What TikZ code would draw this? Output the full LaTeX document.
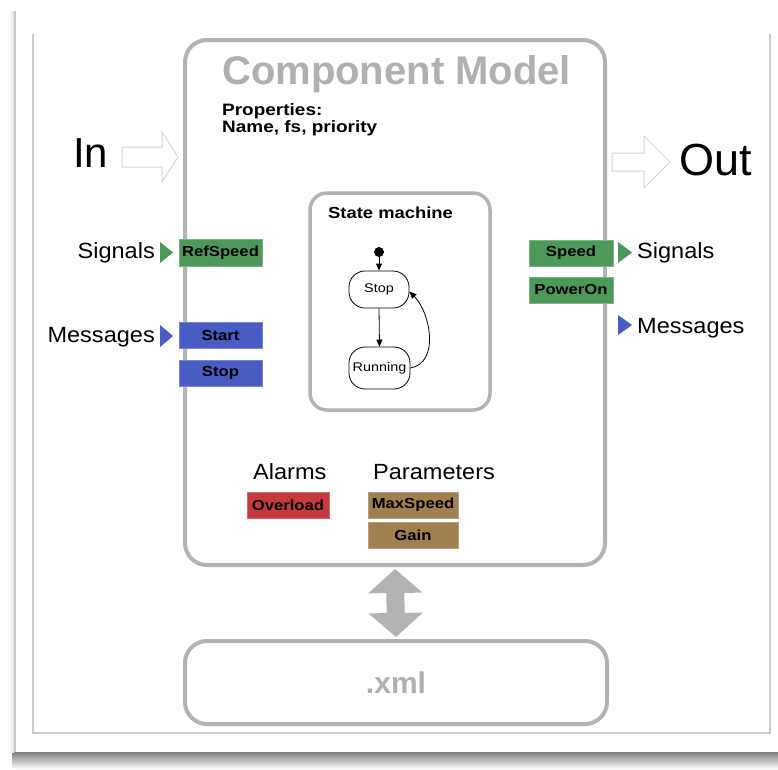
\documentclass[tikz,border=0pt]{standalone}
\usepackage{fontspec}
\setmainfont{Liberation Sans}
\newfontfamily\lblfont[FakeStretch=1.07]{Liberation Sans}
\newfontfamily\tagfont[FakeStretch=1.15]{Liberation Sans}
\usetikzlibrary{arrows.meta,shadings}

\definecolor{edgegray}{HTML}{B3B3B3}
\definecolor{titlegray}{HTML}{B0B0B0}
\definecolor{hollow}{HTML}{D4D4D4}
\definecolor{siggreen}{HTML}{4D995A}
\definecolor{msgblue}{HTML}{485CC4}
\definecolor{alarmred}{HTML}{C43A40}
\definecolor{parbrown}{HTML}{A08050}

\tikzset{
  port/.style={rectangle, inner sep=0pt, minimum height=26pt,
    draw=#1!75!white, line width=0.8pt, fill=#1,
    font=\tagfont\bfseries\fontsize{14.5}{16}\selectfont},
  biglabel/.style={inner sep=0pt, font=\lblfont\fontsize{22}{26}\selectfont},
  tagtext/.style={inner sep=0pt, font=\tagfont\bfseries\fontsize{16.5}{19}\selectfont},
  panel/.style={rectangle, rounded corners=22pt, draw=edgegray, line width=4pt, inner sep=0pt},
  state/.style={rectangle, rounded corners=16pt, draw=black, line width=0.8pt,
    inner sep=0pt, font=\tagfont\fontsize{12.5}{14}\selectfont},
  trans/.style={-{Triangle[length=7pt,width=6pt]}, line width=0.8pt},
  hollowarrow/.style={draw=hollow, line width=1pt, fill=white, line join=miter}
}

\begin{document}
\begin{tikzpicture}[x=1pt, y=-1pt]
\useasboundingbox (0,0) rectangle (778,769);
\fill[white] (0,0) rectangle (778,769);

% page frame with its drop shadow
\shade[top color=black!50, bottom color=white] (12,752) rectangle (778,769);
\shade[left color=white, right color=black!12] (9,11) rectangle (14,752);
\draw[black!22, line width=1.5pt] (15,11) -- (15,752);
\draw[black!20, line width=1.5pt] (33,34) -- (33,733) -- (770,733) -- (770,34);

% the component and its file
\node[panel, minimum width=420pt, minimum height=525pt] (main) at (395,302.5) {};
\node[panel, minimum width=422pt, minimum height=83pt,
      font=\bfseries\fontsize{30}{34}\selectfont, text=titlegray] (xml) at (396,682.5) {.xml};
\draw[edgegray, line width=18pt,
      {Triangle[length=24pt,width=53pt]}-{Triangle[length=24pt,width=53pt]},
      shorten <=2pt, shorten >=2pt] (main.south) -- (xml.north);

\node[anchor=base west, inner sep=0pt, text=titlegray,
      font=\bfseries\fontsize{40}{45}\selectfont] (title) at (222,84) {Component Model};
\node[tagtext, anchor=base west] (props) at (222,115) {Properties:};
\node[tagtext, anchor=base west] (propvals) at (222,132) {Name, fs, priority};

% in / out
\node[anchor=base west, inner sep=0pt, font=\fontsize{42}{48}\selectfont] (in) at (73,167) {In};
\node[anchor=base west, inner sep=0pt, font=\fontsize{45}{50}\selectfont] (out) at (679,175) {Out};
\draw[hollowarrow] (122,147) -- (162,147) -- (162,132) -- (178,157) -- (162,182)
  -- (162,167) -- (122,167) -- cycle;
\draw[hollowarrow] (612,153) -- (644,153) -- (644,136) -- (670,162) -- (644,188)
  -- (644,171) -- (612,171) -- cycle;

% inputs
\node[biglabel, anchor=base east] (sigin) at (155,258) {Signals};
\node[biglabel, anchor=base east] (msgin) at (155,342) {Messages};
\fill[siggreen] (160,242) -- (173,252.5) -- (160,263) -- cycle;
\fill[msgblue] (160,325) -- (173,336) -- (160,347) -- cycle;
\node[port=siggreen, minimum width=83pt, minimum height=27pt] (refspeed) at (220.5,252.5) {RefSpeed};
\node[port=msgblue, minimum width=83pt] (start) at (220.5,335) {Start};
\node[port=msgblue, minimum width=83pt] (stopmsg) at (220.5,373) {Stop};

% outputs
\node[port=siggreen, minimum width=84pt] (speed) at (571,253) {Speed};
\node[port=siggreen, minimum width=84pt] (poweron) at (571,290) {PowerOn};
\fill[siggreen] (618,242) -- (632,252.5) -- (618,263) -- cycle;
\fill[msgblue] (618,315) -- (632,325) -- (618,335) -- cycle;
\node[biglabel, anchor=base west] (sigout) at (637,258) {Signals};
\node[biglabel, anchor=base west] (msgout) at (637,333) {Messages};

% state machine
\node[rectangle, rounded corners=17pt, draw=edgegray, line width=3.5pt,
      minimum width=180pt, minimum height=217pt, inner sep=0pt] (sm) at (400,301.5) {};
\node[anchor=base west, inner sep=0pt, font=\tagfont\bfseries\fontsize{16}{18}\selectfont]
  (smtitle) at (328,218) {State machine};
\node[circle, fill=black, inner sep=0pt, minimum size=10pt] (init) at (379,252) {};
\node[state, minimum width=60pt, minimum height=37pt] (sstop) at (379,289.5) {Stop};
\node[state, minimum width=61pt, minimum height=42pt] (srun) at (379.5,368) {Running};
\draw[trans] (init) -- (sstop.north);
\draw[trans] (sstop.south) -- (srun.north);
\draw[trans] (srun.east) to[out=10, in=-45] ([yshift=-2pt]sstop.east);

% alarms and parameters
\node[biglabel, anchor=base west] (alarms) at (253,479) {Alarms};
\node[biglabel, anchor=base west] (params) at (373,479) {Parameters};
\node[port=alarmred, minimum width=82pt] (overload) at (288,505) {Overload};
\node[port=parbrown, minimum width=90pt] (maxspeed) at (413,505) {MaxSpeed};
\node[port=parbrown, minimum width=90pt] (gain) at (413,535) {Gain};
\end{tikzpicture}
\end{document}
